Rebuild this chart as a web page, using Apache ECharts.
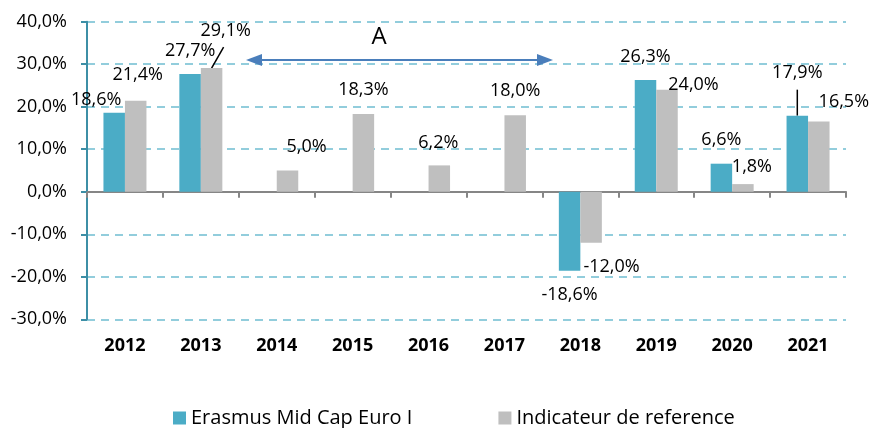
<!DOCTYPE html>
<html>
<head>
<meta charset="utf-8">
<script src="https://cdn.jsdelivr.net/npm/echarts@6/dist/echarts.min.js"></script>
<style>
  html, body { margin: 0; padding: 0; background: #fff; }
  #chart { width: 873px; height: 428px; }
</style>
</head>
<body>
<div id="chart"></div>
<script>
// données
const years = ['2012', '2013', '2014', '2015', '2016', '2017', '2018', '2019', '2020', '2021'];
const erasmus = [18.6, 27.7, null, null, null, null, -18.6, 26.3, 6.6, 17.9];
const indicateur = [21.4, 29.1, 5.0, 18.3, 6.2, 18.0, -12.0, 24.0, 1.8, 16.5];
const seriesNames = ['Erasmus Mid Cap Euro I', 'Indicateur de reference'];

// décalage des étiquettes (px)
const erasmusOffsets = [[-18, -4], [0, -14], null, null, null, null, [0, 15], [0, -14.5], [0, -15], [0, -34]];
const indicOffsets = [[2, -17], [14, -28], [19, -15], [0, -15], [-1, -13.5], [0, -15], [20.5, 15], [26.5, 4], [9, -8], [25, -11]];

const FONT = '"Open Sans", sans-serif';
const fmt = v => v.toFixed(1).replace('.', ',') + '%';

function items(values, offsets) {
  return values.map((v, i) => v == null ? '-' : { value: v, label: { offset: offsets[i] } });
}

const chart = echarts.init(document.getElementById('chart'));

const labelStyle = {
  show: true,
  position: 'outside',
  distance: 0,
  fontFamily: FONT,
  fontSize: 18,
  lineHeight: 18,
  color: '#000',
  formatter: p => fmt(p.value)
};

chart.setOption({
  animation: false,
  grid: { left: 87, right: 27, top: 21.7, bottom: 108.7 },
  legend: {
    data: seriesNames,
    left: 168,
    top: 403,
    icon: 'rect',
    itemWidth: 13,
    itemHeight: 13,
    itemGap: 86,
    textStyle: { fontFamily: FONT, fontSize: 20, color: '#000' }
  },
  xAxis: [{
    type: 'category',
    data: years,
    position: 'bottom',
    axisLine: { show: false, onZero: false },
    axisTick: { show: false },
    axisLabel: { fontFamily: FONT, fontSize: 18, fontWeight: 'bold', color: '#000', margin: 18, lineHeight: 17 }
  }, {
    type: 'category',
    data: years,
    position: 'top',
    axisLine: { onZero: true, lineStyle: { color: '#868686', width: 2 } },
    axisTick: { show: true, inside: true, length: 6, lineStyle: { color: '#868686', width: 2 } },
    axisLabel: { show: false }
  }],
  yAxis: {
    type: 'value',
    min: -30,
    max: 40,
    interval: 10,
    axisLine: { show: true, onZero: false, lineStyle: { color: '#3D8FA6', width: 2 } },
    axisTick: { show: true, length: 6, lineStyle: { color: '#3D8FA6', width: 2 } },
    axisLabel: { fontFamily: FONT, fontSize: 18, color: '#000', margin: 20, formatter: v => fmt(v) },
    splitLine: { lineStyle: { color: '#92CDDC', width: 2, type: [8, 6] } }
  },
  series: [{
    name: seriesNames[0],
    type: 'bar',
    barWidth: 21.5,
    barGap: '0%',
    itemStyle: { color: '#4BACC6' },
    label: labelStyle,
    data: items(erasmus, erasmusOffsets)
  }, {
    name: seriesNames[1],
    type: 'bar',
    barWidth: 21.5,
    barGap: '0%',
    itemStyle: { color: '#BFBFBF' },
    label: labelStyle,
    data: items(indicateur, indicOffsets)
  }]
});

// lignes de rappel + flèche "A"
const half = 10.75;
const px = (cat, v) => [chart.convertToPixel({ xAxisIndex: 0 }, cat), chart.convertToPixel({ yAxisIndex: 0 }, v)];
const p13 = px('2013', indicateur[1]);
const p21 = px('2021', erasmus[9]);
const arrowColor = '#4A7EBB';

chart.setOption({
  graphic: [
    { type: 'line', shape: { x1: p13[0] + half, y1: p13[1], x2: p13[0] + half + 12, y2: p13[1] - 21 }, style: { stroke: '#000', lineWidth: 1.5 } },
    { type: 'line', shape: { x1: p21[0] - half, y1: p21[1], x2: p21[0] - half, y2: p21[1] - 26 }, style: { stroke: '#000', lineWidth: 1.5 } },
    { type: 'line', shape: { x1: 260, y1: 60, x2: 539, y2: 60 }, style: { stroke: arrowColor, lineWidth: 2 } },
    { type: 'polygon', shape: { points: [[246, 60], [262, 54], [262, 66]] }, style: { fill: arrowColor } },
    { type: 'polygon', shape: { points: [[553, 60], [537, 54], [537, 66]] }, style: { fill: arrowColor } },
    { type: 'text', x: 379, y: 37, style: { text: 'A', font: '24px "Open Sans", sans-serif', fill: '#000', align: 'center', verticalAlign: 'middle' } }
  ]
});
</script>
</body>
</html>
